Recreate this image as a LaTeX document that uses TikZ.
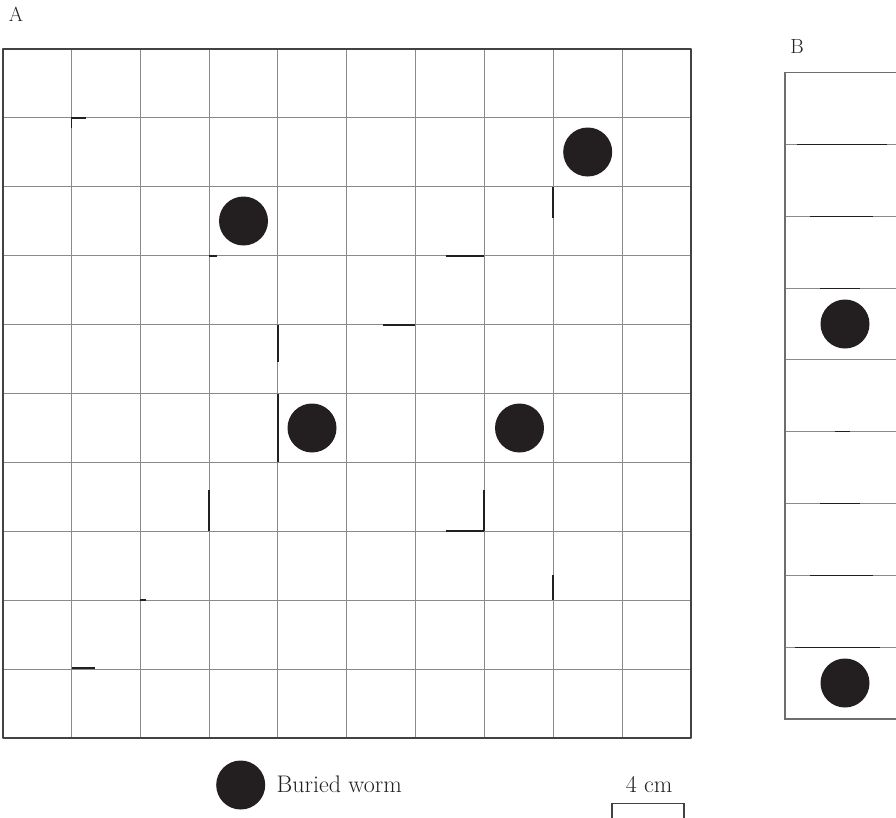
\documentclass[tikz,border=0pt]{standalone}
\usepackage{xcolor}
\definecolor{ink}{HTML}{231F20}
\definecolor{gridgray}{HTML}{8A8A8A}
\begin{document}
\begin{tikzpicture}[x=1pt,y=-1pt,
  worm/.style={circle,fill=ink,draw=none,minimum size=49pt,inner sep=0pt},
  gridline/.style={draw=gridgray,line width=1.1pt},
  darkseg/.style={draw=ink,line width=1.2pt},
  lbl/.style={text=ink,inner sep=0pt,font=\fontsize{20.5}{24}\selectfont},
  txt/.style={text=ink,inner sep=0pt,font=\fontsize{24}{28}\selectfont}]
\useasboundingbox (0,0) rectangle (896,817);
% ---- Grid A ----
\foreach \i in {1,...,9} {
  \draw[gridline] ({2.5+68.85*\i},49) -- ({2.5+68.85*\i},738);
  \draw[gridline] (2.5,{49+68.9*\i}) -- (691,{49+68.9*\i});
}
% darker segments
\draw[darkseg] (71.4,118) -- (86,118);
\draw[darkseg] (71.4,118) -- (71.4,128);
\draw[darkseg] (209,256) -- (217,256);
\draw[darkseg] (553,187) -- (553,218);
\draw[darkseg] (446,256) -- (484,256);
\draw[darkseg] (383,325) -- (415,325);
\draw[darkseg] (278,325) -- (278,362);
\draw[darkseg] (278,394) -- (278,462);
\draw[darkseg] (209,490) -- (209,531);
\draw[darkseg] (446,531) -- (484,531);
\draw[darkseg] (484,490) -- (484,531);
\draw[darkseg] (553,575) -- (553,600);
\draw[darkseg] (140,600) -- (146,600);
\draw[darkseg] (72,668) -- (95,668);
\draw[draw=ink!85,line width=2pt,line join=round] (2.5,49) rectangle (691,738);
% worms in A
\node[worm] (wa1) at (587.7,152) {};
\node[worm] (wa2) at (243.5,221) {};
\node[worm] (wa3) at (312,428) {};
\node[worm] (wa4) at (519.5,428) {};
\node[lbl,anchor=base] (la) at (16,21) {A};
% ---- Grid B ----
\foreach \j in {1,...,8} {
  \draw[gridline] (785,{72.7+71.8*\j}) -- (900,{72.7+71.8*\j});
}
\draw[darkseg] (797,144.5) -- (887,144.5);
\draw[darkseg] (810,216.3) -- (873,216.3);
\draw[darkseg] (820,288.1) -- (860,288.1);
\draw[darkseg] (835,431.7) -- (850,431.7);
\draw[darkseg] (820,503.5) -- (860,503.5);
\draw[darkseg] (810,575.3) -- (873,575.3);
\draw[darkseg] (795,647.1) -- (880,647.1);
\draw[draw=gridgray!80!black,line width=1.3pt] (900,72.7) -- (785,72.7) -- (785,719) -- (900,719);
\node[worm] (wb1) at (845,324) {};
\node[worm] (wb2) at (845,683) {};
\node[lbl,anchor=base] (lb) at (797,53.3) {B};
% ---- Legend ----
\node[worm] (lw) at (240.7,785) {};
\node[txt,anchor=base west] (lt) at (276.5,792.3) {Buried worm};
\node[txt,anchor=base] (sc) at (649.2,792.3) {4 cm};
\coordinate (s1) at (612,825);
\coordinate (s2) at (684,825);
\draw[draw=ink!85,line width=1.1pt] (s1) -- (612,803.5) -- (684,803.5) -- (s2);
\end{tikzpicture}
\end{document}
